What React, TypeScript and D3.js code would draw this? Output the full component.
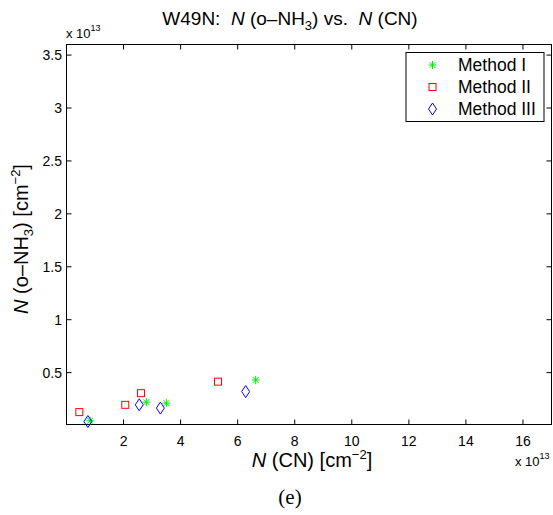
import React from "react";
import * as d3 from "d3";

const methods = ["Method I", "Method II", "Method III"];
const colors = ["#00ee00", "#ff0000", "#0000ff"];
const shapes = ["star", "square", "diamond"];

// N(CN) in units of 1e13
const cnMethodI = [0.83, 2.8, 3.5, 6.63];
const nh3MethodI = [0.045, 0.221, 0.212, 0.431];
const cnMethodII = [0.45, 2.06, 2.61, 5.31];
const nh3MethodII = [0.127, 0.196, 0.306, 0.415];
const cnMethodIII = [0.75, 2.55, 3.29, 6.28];
const nh3MethodIII = [0.038, 0.196, 0.165, 0.321];

const xTicks = [2, 4, 6, 8, 10, 12, 14, 16];
const yTicks = [0.5, 1, 1.5, 2, 2.5, 3, 3.5];

const W = 553;
const H = 515;
const L = 66.5, R = 551.5, T = 44.5, B = 424.5;

function Marker({ shape, x, y, color }: { shape: string; x: number; y: number; color: string }) {
  if (shape === "square") {
    return <rect x={x - 3.5} y={y - 3.5} width={7} height={7} fill="none" stroke={color} strokeWidth={1} />;
  }
  if (shape === "diamond") {
    return (
      <path
        d={`M${x},${y - 6}L${x + 4},${y}L${x},${y + 6}L${x - 4},${y}Z`}
        fill="none"
        stroke={color}
        strokeWidth={1}
      />
    );
  }
  const r = 4;
  const d = r * 0.72;
  return (
    <path
      d={`M${x - r},${y}L${x + r},${y}M${x},${y - r}L${x},${y + r}M${x - d},${y - d}L${x + d},${y + d}M${x - d},${y + d}L${x + d},${y - d}`}
      stroke={color}
      strokeWidth={1}
      fill="none"
    />
  );
}

export default function App() {
  const x = d3.scaleLinear().domain([0, 17]).range([L, R]);
  const y = d3.scaleLinear().domain([0.01, 3.6]).range([B, T]);
  const series = [
    { xs: cnMethodI, ys: nh3MethodI },
    { xs: cnMethodII, ys: nh3MethodII },
    { xs: cnMethodIII, ys: nh3MethodIII },
  ];
  const font = "'Liberation Sans', Arial, Helvetica, sans-serif";
  const tl = 5;
  const sp = "\u00a0";
  return (
    <svg width={W} height={H} style={{ position: "absolute", left: 0, top: 0 }} fontFamily={font}>
      <rect x={0} y={0} width={W} height={H} fill="#fff" />
      {/* title */}
      <text x={290} y={25} textAnchor="middle" fontSize={19} fill="#000">
        <tspan>{"W49N:" + sp + sp}</tspan>
        <tspan fontStyle="italic">N</tspan>
        <tspan>{sp + "(o–NH"}</tspan>
        <tspan fontSize={13} dy={5}>3</tspan>
        <tspan dy={-5}>{")" + sp + "vs." + sp + sp}</tspan>
        <tspan fontStyle="italic">N</tspan>
        <tspan>{sp + "(CN)"}</tspan>
      </text>
      {/* top-left exponent */}
      <text x={66} y={38} fontSize={13} fill="#000">
        {"x" + sp + "10"}
        <tspan fontSize={9} dy={-7}>13</tspan>
      </text>
      {/* frame */}
      <rect x={L} y={T} width={R - L} height={B - T} fill="none" stroke="#000" strokeWidth={1} />
      {/* ticks */}
      {xTicks.map((t) => (
        <g key={"x" + t}>
          <line x1={x(t)} x2={x(t)} y1={B} y2={B - tl} stroke="#000" />
          <line x1={x(t)} x2={x(t)} y1={T} y2={T + tl} stroke="#000" />
          <text x={x(t)} y={446} textAnchor="middle" fontSize={14} fill="#000">
            {t}
          </text>
        </g>
      ))}
      {yTicks.map((t) => (
        <g key={"y" + t}>
          <line x1={L} x2={L + tl} y1={y(t)} y2={y(t)} stroke="#000" />
          <line x1={R} x2={R - tl} y1={y(t)} y2={y(t)} stroke="#000" />
          <text x={62} y={y(t) + 5} textAnchor="end" fontSize={14} fill="#000">
            {t}
          </text>
        </g>
      ))}
      {/* data */}
      {series.map((s, i) =>
        s.xs.map((v, j) => (
          <Marker key={i + "-" + j} shape={shapes[i]} x={x(v)} y={y(s.ys[j])} color={colors[i]} />
        ))
      )}
      {/* legend */}
      <rect x={406} y={52.5} width={138} height={69} fill="#fff" stroke="#000" strokeWidth={1} />
      {methods.map((m, i) => (
        <g key={m}>
          <Marker shape={shapes[i]} x={432.5} y={65 + i * 22} color={colors[i]} />
          <text x={458} y={65 + i * 22 + 6} fontSize={17.5} fill="#000">
            {m}
          </text>
        </g>
      ))}
      {/* x label */}
      <text x={312} y={467} textAnchor="middle" fontSize={20} fill="#000">
        <tspan fontStyle="italic">N</tspan>
        <tspan>{sp + "(CN)" + sp + "[cm"}</tspan>
        <tspan fontSize={13} dy={-8}>−2</tspan>
        <tspan dy={8}>]</tspan>
      </text>
      {/* bottom-right exponent */}
      <text x={515} y={466} fontSize={13} fill="#000">
        {"x" + sp + "10"}
        <tspan fontSize={9} dy={-7}>13</tspan>
      </text>
      {/* y label */}
      <text
        transform={`translate(28, 239) rotate(-90)`}
        textAnchor="middle"
        fontSize={20}
        fill="#000"
      >
        <tspan fontStyle="italic">N</tspan>
        <tspan>{sp + "(o–NH"}</tspan>
        <tspan fontSize={13} dy={5}>3</tspan>
        <tspan dy={-5}>{")" + sp + "[cm"}</tspan>
        <tspan fontSize={13} dy={-8}>−2</tspan>
        <tspan dy={8}>]</tspan>
      </text>
      {/* caption */}
      <text x={290} y={504} textAnchor="middle" fontSize={21} fontFamily="'Liberation Serif', 'Times New Roman', serif" fill="#000">
        (e)
      </text>
    </svg>
  );
}
